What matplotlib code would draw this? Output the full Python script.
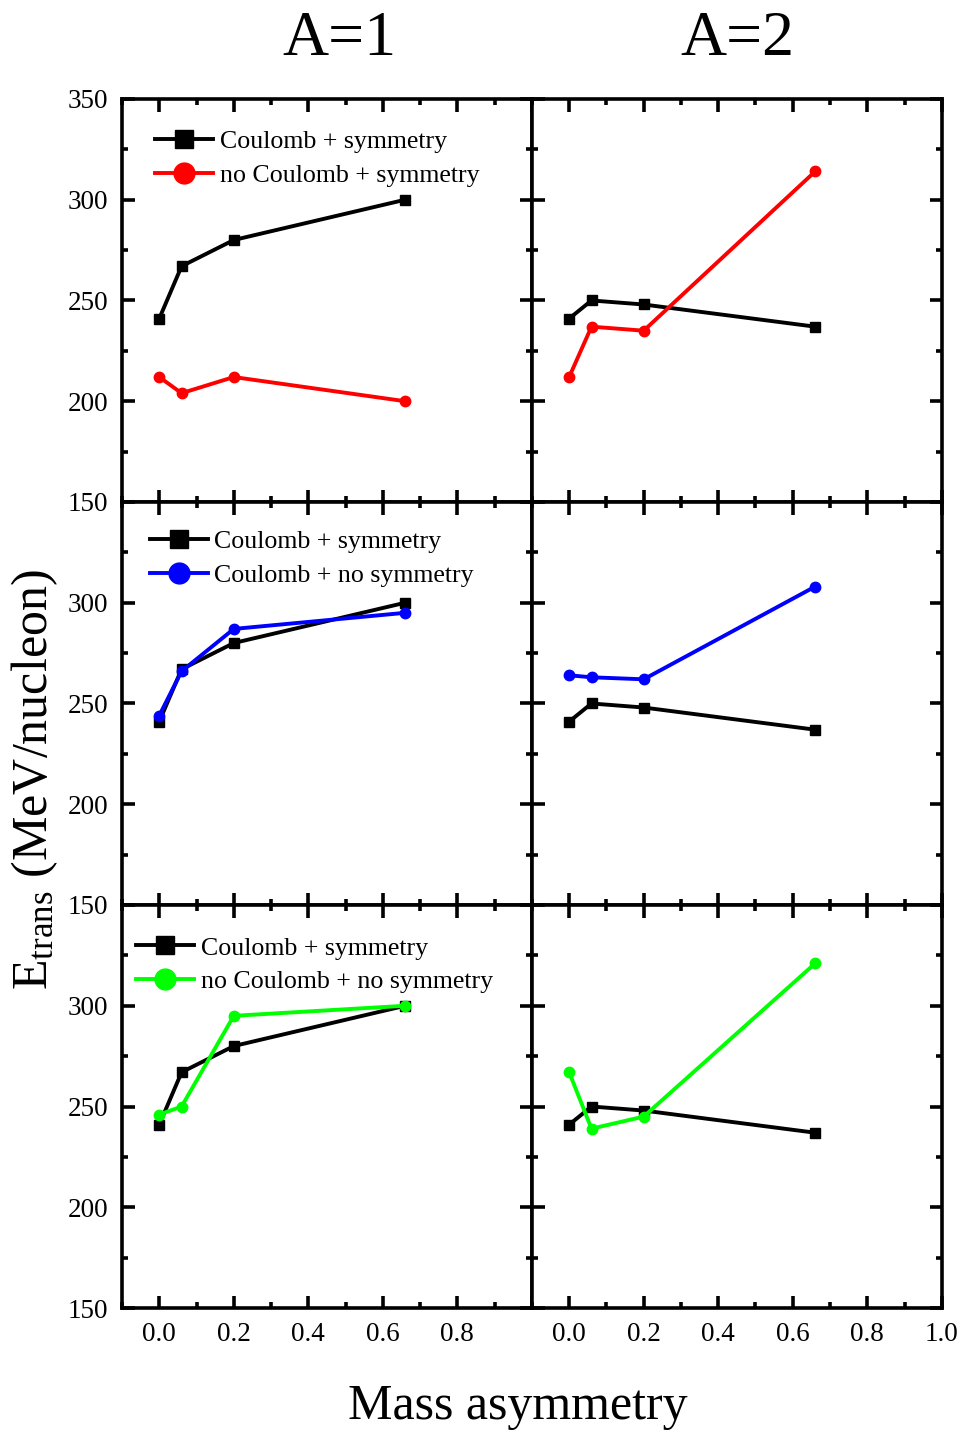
import matplotlib
matplotlib.use("Agg")
import matplotlib.pyplot as plt
from matplotlib.ticker import MultipleLocator

plt.rcParams['font.family'] = ['Liberation Serif', 'DejaVu Serif']
plt.rcParams['mathtext.fontset'] = 'custom'
plt.rcParams['mathtext.rm'] = 'Liberation Serif'
plt.rcParams['mathtext.it'] = 'Liberation Serif:italic'

# mass asymmetry values
asym = [0.0, 0.06, 0.2, 0.66]

# reference: Coulomb + symmetry
ref_a1 = [241, 267, 280, 300]
ref_a2 = [241, 250, 248, 237]

# comparison series
nocoul_sym_a1 = [212, 204, 212, 200]
nocoul_sym_a2 = [212, 237, 235, 314]
coul_nosym_a1 = [244, 266, 287, 295]
coul_nosym_a2 = [264, 263, 262, 308]
nocoul_nosym_a1 = [246, 250, 295, 300]
nocoul_nosym_a2 = [267, 239, 245, 321]

ref_label = 'Coulomb + symmetry'
row_labels = ['no Coulomb + symmetry', 'Coulomb + no symmetry', 'no Coulomb + no symmetry']
row_colors = ['#ff0000', '#0000ff', '#00ff00']
row_data = [(nocoul_sym_a1, nocoul_sym_a2),
            (coul_nosym_a1, coul_nosym_a2),
            (nocoul_nosym_a1, nocoul_nosym_a2)]
legend_pos = [(0.081, 0.922), (0.068, 0.93), (0.034, 0.922)]

fig, axs = plt.subplots(3, 2, figsize=(9.62, 14.3), dpi=100, sharex=True, sharey=True)
fig.subplots_adjust(left=0.1268, right=0.979, top=0.9308, bottom=0.0853,
                    wspace=0, hspace=0)

lw = 2.8
for i in range(3):
    for j in range(2):
        ax = axs[i, j]
        ref = ref_a1 if j == 0 else ref_a2
        ax.plot(asym, ref, color='black', lw=lw, marker='s', ms=6.5, label=ref_label)
        ax.plot(asym, row_data[i][j], color=row_colors[i], lw=lw, marker='o', ms=7.5,
                label=row_labels[i])
        ax.set_xlim(-0.1, 1.0)
        ax.set_ylim(150, 350)
        ax.xaxis.set_major_locator(MultipleLocator(0.2))
        ax.xaxis.set_minor_locator(MultipleLocator(0.1))
        ax.yaxis.set_major_locator(MultipleLocator(50))
        ax.yaxis.set_minor_locator(MultipleLocator(25))
        ax.tick_params(which='both', direction='in', top=True, right=True,
                       labelsize=19.5, width=2.6)
        ax.tick_params(which='major', length=9, pad=10)
        ax.tick_params(which='minor', length=4.5)
        for s in ax.spines.values():
            s.set_linewidth(2.6)
        if j == 0:
            ax.legend(loc='upper left', bbox_to_anchor=legend_pos[i], frameon=False,
                      fontsize=18.6, markerscale=2.0, handlelength=2.25,
                      handletextpad=0.25, labelspacing=0.42, borderpad=0,
                      borderaxespad=0)

# hide overlapping tick labels
fig.canvas.draw()
for i in (1, 2):
    for t, v in zip(axs[i, 0].yaxis.get_major_ticks(), axs[i, 0].get_yticks()):
        if v >= 350:
            t.label1.set_visible(False)
for t, v in zip(axs[2, 0].xaxis.get_major_ticks(), axs[2, 0].get_xticks()):
    if v > 0.9:
        t.label1.set_visible(False)

fig.text(0.353, 0.972, 'A=1', fontsize=46, ha='center', va='center')
fig.text(0.766, 0.972, 'A=2', fontsize=46, ha='center', va='center')
fig.text(0.5385, 0.016, 'Mass asymmetry', fontsize=36, ha='center', va='center')
fig.text(0.036, 0.4545, r'E$_{\mathrm{trans}}$ (MeV/nucleon)', fontsize=36,
         rotation=90, ha='center', va='center')

fig.savefig('out.png', dpi=100)
